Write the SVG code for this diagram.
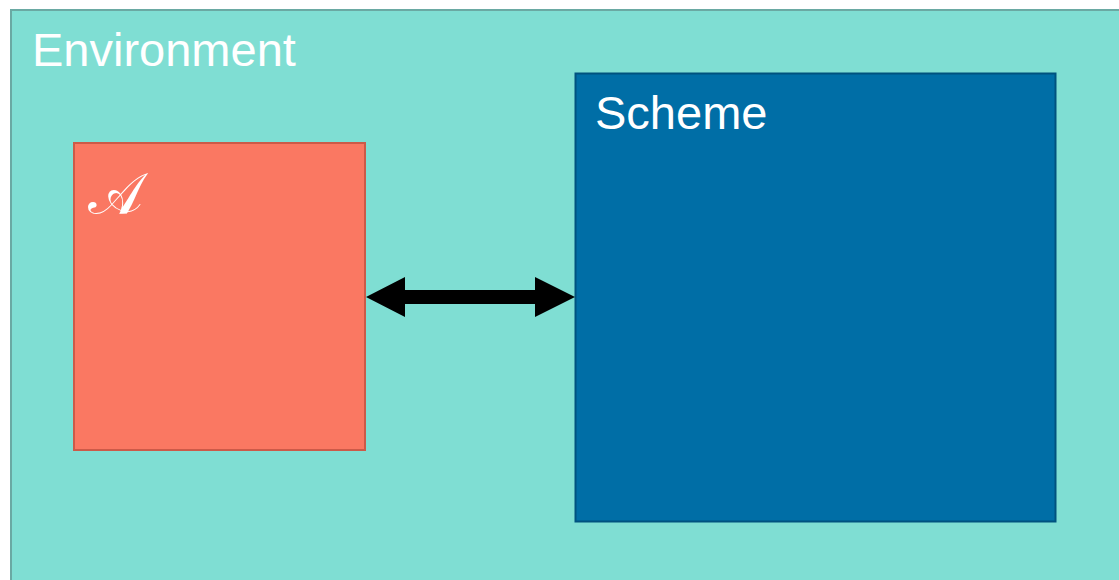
<svg xmlns="http://www.w3.org/2000/svg" width="1119" height="580" viewBox="0 0 1119 580">
  <style>
    .label { font-family: "Liberation Sans", Arial, sans-serif; font-size: 47px; fill: #ffffff; }
    .math { font-family: "DejaVu Serif", "Liberation Serif", serif; font-size: 58px; fill: #ffffff; }
    .arrow { fill: #000000; }
  </style>
  <rect width="1119" height="580" fill="#ffffff"/>

  <g id="environment">
    <rect x="11" y="10" width="1120" height="580" fill="#7fded3" stroke="#6aa9a3" stroke-width="2"/>
    <text class="label" x="32" y="66">Environment</text>
  </g>

  <g id="agent">
    <rect x="74" y="143" width="291" height="307" fill="#fa7862" stroke="#cc5a48" stroke-width="2"/>
    <text class="math" x="88" y="214">𝒜</text>
  </g>

  <g id="scheme">
    <rect x="575.5" y="73.5" width="480" height="448" fill="#006ea6" stroke="#00527f" stroke-width="2"/>
    <text class="label" x="595" y="129">Scheme</text>
  </g>

  <g id="connectors">
    <!-- two-headed arrow between the agent and the scheme -->
    <path class="arrow" d="M366,297 L405,277 L405,290 L535,290 L535,277 L575,297 L535,317 L535,304 L405,304 L405,317 Z"/>
  </g>
</svg>
